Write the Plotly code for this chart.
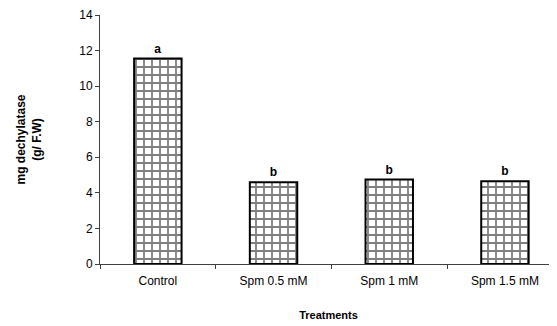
import plotly.graph_objects as go

categories = ["Control", "Spm 0.5 mM", "Spm 1 mM", "Spm 1.5 mM"]
values = [11.55, 4.6, 4.75, 4.65]
letters = ["a", "b", "b", "b"]
y_ticks = [0, 2, 4, 6, 8, 10, 12, 14]

fig = go.Figure()
fig.add_trace(go.Bar(
    x=categories, y=values, width=0.41,
    marker=dict(color="white", line=dict(color="black", width=2),
                pattern=dict(shape="+", fgcolor="black", bgcolor="white",
                             size=8, solidity=0.4)),
    text=letters, textposition="outside", cliponaxis=False,
    textfont=dict(family="Liberation Sans, Arial", size=12, color="black", weight="bold"),
))

# the page body has an 8px default margin, so the figure is sized to fit
fig.update_layout(
    width=549, height=318,
    margin=dict(l=92, r=0, t=7, b=62),
    plot_bgcolor="white", paper_bgcolor="white",
    showlegend=False,
    font=dict(family="Liberation Sans, Arial", size=12, color="black"),
    xaxis=dict(range=[-0.5, 3.45], showline=True, linecolor="#404040", linewidth=1,
               ticks="outside", tickson="boundaries", ticklen=4, tickcolor="#404040",
               ticklabelstandoff=6,
               showgrid=False, automargin=False,
               title=dict(text="<b>Treatments</b>", standoff=23,
                          font=dict(size=11))),
    yaxis=dict(range=[0, 14], tickvals=y_ticks, showline=True, linecolor="#404040",
               linewidth=1, ticks="outside", ticklen=4, tickcolor="#404040",
               showgrid=False, zeroline=False, automargin=False,
               title=dict(text="<b>mg dechylatase<br>(g/ F.W)</b>", standoff=35,
                          font=dict(size=12))),
)

fig.write_html("out.html")
